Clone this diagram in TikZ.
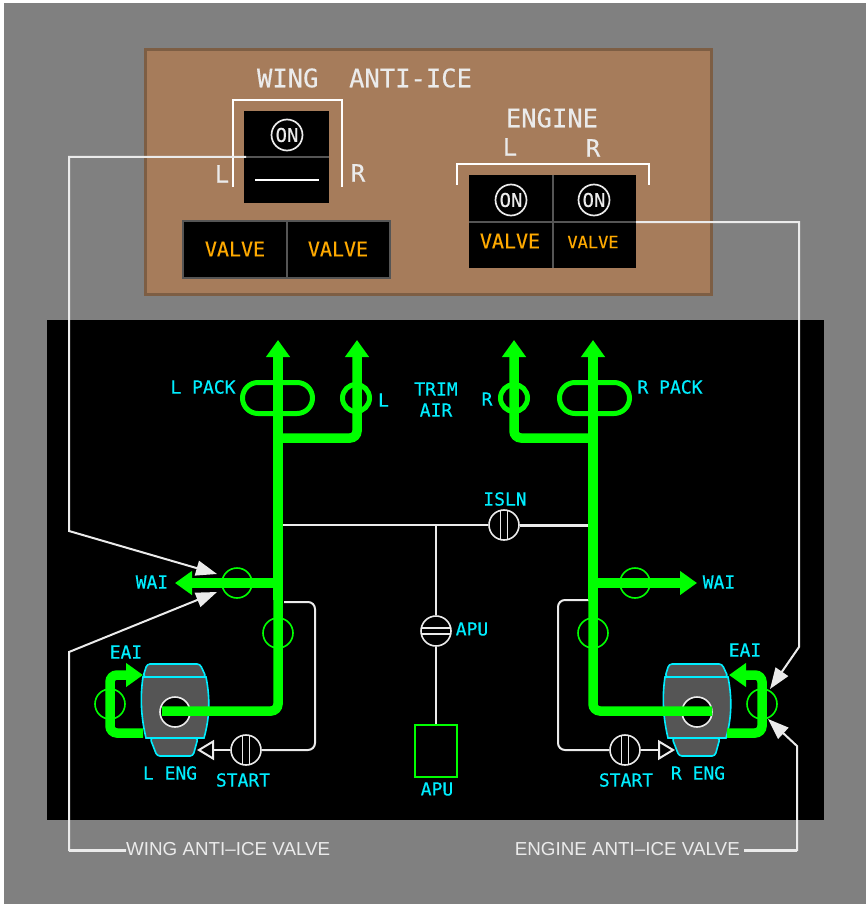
\documentclass[tikz,border=0pt]{standalone}
\usepackage{fontspec}
\newfontfamily\panelmono[FakeBold=0.35]{DejaVu Sans Mono}
\setmainfont{Liberation Sans}
\definecolor{sysgray}{RGB}{128,128,128}
\definecolor{sysbrown}{RGB}{166,124,91}
\definecolor{sysedge}{RGB}{125,94,68}
\definecolor{sysdiv}{RGB}{85,85,85}
\definecolor{sysgreen}{RGB}{0,255,0}
\definecolor{syscyan}{RGB}{0,238,255}
\definecolor{sysamber}{RGB}{255,170,0}
\definecolor{syslight}{RGB}{235,235,235}
\usetikzlibrary{arrows.meta,positioning}
\newcommand{\monosize}[1]{\panelmono\fontsize{#1}{#1}\selectfont}

\begin{document}
\begin{tikzpicture}[x=1pt,y=-1pt,
  paneltxt/.style={inner sep=0,text=syslight,font=\monosize{#1}},
  sdtxt/.style={inner sep=0,text=syscyan,font=\monosize{#1},align=center},
  sdtxt/.default=18,
  amber/.style={inner sep=0,text=sysamber,font=\monosize{#1}},
  note/.style={inner sep=0,text=syslight,font=\fontsize{18.8}{20}\selectfont},
  onlamp/.style={circle,draw=syslight,line width=1.7pt,minimum size=31pt,inner sep=0,
    text=syslight,font=\monosize{19}},
  ringthin/.style={circle,draw=sysgreen,line width=1.6pt,minimum size=30pt,inner sep=0},
  ringbig/.style={circle,draw=sysgreen,line width=5pt,minimum size=27pt,inner sep=0},
  pack/.style={rectangle,rounded corners=15.5pt,draw=sysgreen,line width=5pt,
    minimum width=70pt,minimum height=31pt,inner sep=0},
  valvev/.style={circle,draw=syslight,fill=black,line width=1.6pt,minimum size=30pt,inner sep=0,
    path picture={\draw[syslight,line width=1.4pt]
      ([xshift=-3.5pt]path picture bounding box.north) -- ([xshift=-3.5pt]path picture bounding box.south)
      ([xshift=3.5pt]path picture bounding box.north) -- ([xshift=3.5pt]path picture bounding box.south);}},
  valveh/.style={circle,draw=syslight,fill=black,line width=1.6pt,minimum size=30pt,inner sep=0,
    path picture={\draw[syslight,line width=1.4pt]
      ([yshift=-3pt]path picture bounding box.west) -- ([yshift=-3pt]path picture bounding box.east)
      ([yshift=3pt]path picture bounding box.west) -- ([yshift=3pt]path picture bounding box.east);}},
  hub/.style={circle,draw=syslight,fill=black,line width=1.6pt,minimum size=30pt,inner sep=0},
  bleed/.style={draw=sysgreen,line width=9.5pt,rounded corners=7pt},
  bleedarr/.style={bleed,-{Triangle[length=17pt,width=23pt]}},
  duct/.style={draw=syslight,line width=#1,rounded corners=7pt},
  duct/.default=2pt,
  startarr/.style={duct,-{Triangle[open,length=17pt,width=20pt,fill=black]}},
  leader/.style={draw=syslight,line width=2pt,-{Triangle[length=21pt,width=15pt]}},
  bracket/.style={draw=white,line width=2pt},
  engine/.pic={
    \draw[syscyan,line width=1.6pt,fill=sysdiv,rounded corners=3pt]
      (-32,-35) -- (-28,-48) -- (25,-48) -- (31,-35) -- cycle;
    \draw[syscyan,line width=1.6pt,fill=sysdiv,rounded corners=3pt]
      (-25,26) -- (-18,44) -- (18,44) -- (23,26) -- cycle;
    \draw[syscyan,line width=1.6pt,fill=sysdiv]
      (-32,-35) .. controls (-35,-15) and (-34,5) .. (-29,26) -- (29,26)
      .. controls (35,5) and (35,-15) .. (31,-35) -- cycle;
  }
]
  \useasboundingbox (0,0) rectangle (866,904);
  \fill[white] (0,0) rectangle (866,904);
  \fill[sysgray] (4,3) rectangle (866,904);

  % Overhead panel
  \node[draw=sysedge,fill=sysbrown,line width=3pt,minimum width=566pt,minimum height=245pt,inner sep=0] (panel) at (428.5,172) {};
  \node[paneltxt=25.5] (wingtitle) at (364.5,78) {WING\ \ ANTI-ICE};
  \node[fill=black,minimum width=85pt,minimum height=92pt,inner sep=0] (wingsw) at (286.5,157) {};
  \draw[sysdiv,line width=2pt] (wingsw.west) -- (wingsw.east);
  \node[onlamp] (wingon) at (287,135) {ON};
  \coordinate (wingbarl) at (255,180);
  \coordinate (wingbarr) at (319,180);
  \draw[draw=white,line width=1.5pt] (wingbarl) -- (wingbarr);
  \draw[bracket] (233,187) -- (233,100) -- (342,100) -- (342,187);
  \node[paneltxt=24] (wingl) at (222,174) {L};
  \node[paneltxt=24] (wingr) at (358,173) {R};
  \node[fill=black,draw=sysdiv,line width=2pt,minimum width=207pt,minimum height=57pt,inner sep=0] (wingvalve) at (286.5,249.5) {};
  \draw[sysdiv,line width=2pt] (wingvalve.north) -- (wingvalve.south);
  \node[amber=20] (wingvl) at (235,249) {VALVE};
  \node[amber=20] (wingvr) at (338,249) {VALVE};

  \node[paneltxt=25.5] (enginetitle) at (552,118) {ENGINE};
  \node[paneltxt=24] (engl) at (510,147) {L};
  \node[paneltxt=24] (engr) at (593,148) {R};
  \draw[bracket] (457,185) -- (457,164) -- (649,164) -- (649,185);
  \node[fill=black,minimum width=167pt,minimum height=93pt,inner sep=0] (engsw) at (552.5,221.5) {};
  \draw[sysdiv,line width=2pt] (engsw.north) -- (engsw.south) (engsw.west |- 0,222) -- (engsw.east |- 0,222);
  \node[onlamp] (enon1) at (511,200) {ON};
  \node[onlamp] (enon2) at (594,200) {ON};
  \node[amber=20] (engvl) at (510,241) {VALVE};
  \node[amber=17] (engvr) at (593,242) {VALVE};

  % Synoptic page
  \node[fill=black,minimum width=777pt,minimum height=500pt,inner sep=0] (page) at (435.5,570) {};

  \coordinate (lmain) at (278,711);
  \coordinate (ltop) at (278,340);
  \coordinate (rmain) at (593,711);
  \coordinate (rtop) at (593,340);
  \coordinate (ljoin) at (283,525);
  \coordinate (rjoin) at (589,525);
  \coordinate (apujoin) at (436,525);

  % Cross-bleed, thin ducts
  \node[valvev] (isln) at (504,525) {};
  \node[valveh] (apuv) at (436,631) {};
  \node[draw=sysgreen,line width=2pt,minimum width=42pt,minimum height=52pt,inner sep=0] (apubox) at (436,751) {};
  \draw[duct] (ljoin) -- (isln);
  \draw[duct=3pt] (isln) -- (rjoin);
  \draw[duct] (apujoin) -- (apuv);
  \draw[duct] (apuv) -- (apubox);

  % Engines
  \pic at (175,712) {engine};
  \pic at (697,712) {engine};
  \node[hub] (lhub) at (175,712) {};
  \node[hub] (rhub) at (697,712) {};

  % Start ducts
  \node[valvev] (lstart) at (246,750) {};
  \node[valvev] (rstart) at (625,750) {};
  \coordinate (ltip) at (197,750);
  \coordinate (rtip) at (675,750);
  \draw[duct] (284,602) -- (315,602) -- (315,750) -- (lstart);
  \draw[duct] (589,600) -- (558,600) -- (558,750) -- (rstart);
  \draw[startarr] (lstart) -- (ltip);
  \draw[startarr] (rstart) -- (rtip);

  % Bleed air
  \node[ringthin] (lwai) at (237,583) {};
  \node[ringthin] (rwai) at (635,583) {};
  \node[ringthin] (lprv) at (278,633) {};
  \node[ringthin] (rprv) at (593,633) {};
  \node[ringthin] (leai) at (110,704) {};
  \node[ringthin] (reai) at (762,704) {};
  \draw[bleed] (lmain) ++(-116,0) -- (lmain) -- (278,350);
  \draw[bleed] (rmain) ++(119,0) -- (rmain) -- (593,350);
  \draw[bleedarr] (278,600) -- (ltop);
  \draw[bleedarr] (593,600) -- (rtop);
  \draw[bleedarr] (278,438) -- (357,438) -- (357,340);
  \draw[bleedarr] (593,438) -- (514,438) -- (514,340);
  \draw[bleedarr] (278,583) -- (175,583);
  \draw[bleedarr] (593,583) -- (697,583);
  \draw[bleedarr] (143,733) -- (110,733) -- (110,675) -- (143,675);
  \draw[bleedarr] (727,733) -- (762,733) -- (762,675) -- (729,675);

  \node[pack] (lpack) at (277.5,398) {};
  \node[pack] (rpack) at (594.5,398) {};
  \node[ringbig] (ltrim) at (356,398) {};
  \node[ringbig] (rtrim) at (514,398) {};

  % Labels
  \node[sdtxt] (lpacktxt) at (203,387) {L PACK};
  \node[sdtxt] (rpacktxt) at (670,387) {R PACK};
  \node[sdtxt] (ltrimtxt) at (383.5,400) {L};
  \node[sdtxt] (rtrimtxt) at (487,399) {R};
  \node[sdtxt] (trimtxt) at (436,399.5) {TRIM\\[3pt]AIR};
  \node[sdtxt] (islntxt) at (505,499) {ISLN};
  \node[sdtxt] (lwaitxt) at (152,582) {WAI};
  \node[sdtxt] (rwaitxt) at (719,582) {WAI};
  \node[sdtxt] (apuvtxt) at (472,629) {APU};
  \node[sdtxt] (aputxt) at (437,789) {APU};
  \node[sdtxt] (leaitxt) at (126,652) {EAI};
  \node[sdtxt] (reaitxt) at (745,650) {EAI};
  \node[sdtxt] (lengtxt) at (170,773) {L ENG};
  \node[sdtxt] (rengtxt) at (698,773) {R ENG};
  \node[sdtxt] (lstarttxt) at (243,780) {START};
  \node[sdtxt] (rstarttxt) at (626,780) {START};

  % Call-outs
  \node[note,anchor=west] (wingnote) at (126,849) {WING ANTI--ICE VALVE};
  \node[note,anchor=east] (engnote) at (740,849) {ENGINE ANTI--ICE VALVE};
  \coordinate (wingtipa) at (217,574);
  \coordinate (wingtipb) at (217,592);
  \coordinate (engtipa) at (770,689);
  \coordinate (engtipb) at (768,719);
  \coordinate (engout) at (636,222);
  \coordinate (wingend) at (126,850);
  \coordinate (engend) at (744,850);
  \draw[leader] (246,157) -- (69,157) -- (69,531) -- (wingtipa);
  \draw[leader] (wingend) -- (69,850) -- (69,652) -- (wingtipb);
  \draw[leader] (engout) -- (799,222) -- (799,647) -- (engtipa);
  \draw[leader] (engend) -- (797,850) -- (797,746) -- (engtipb);
  \draw[draw=syslight,line width=3pt] (wingend) -- (69,850) (engend) -- (797,850);
\end{tikzpicture}
\end{document}
